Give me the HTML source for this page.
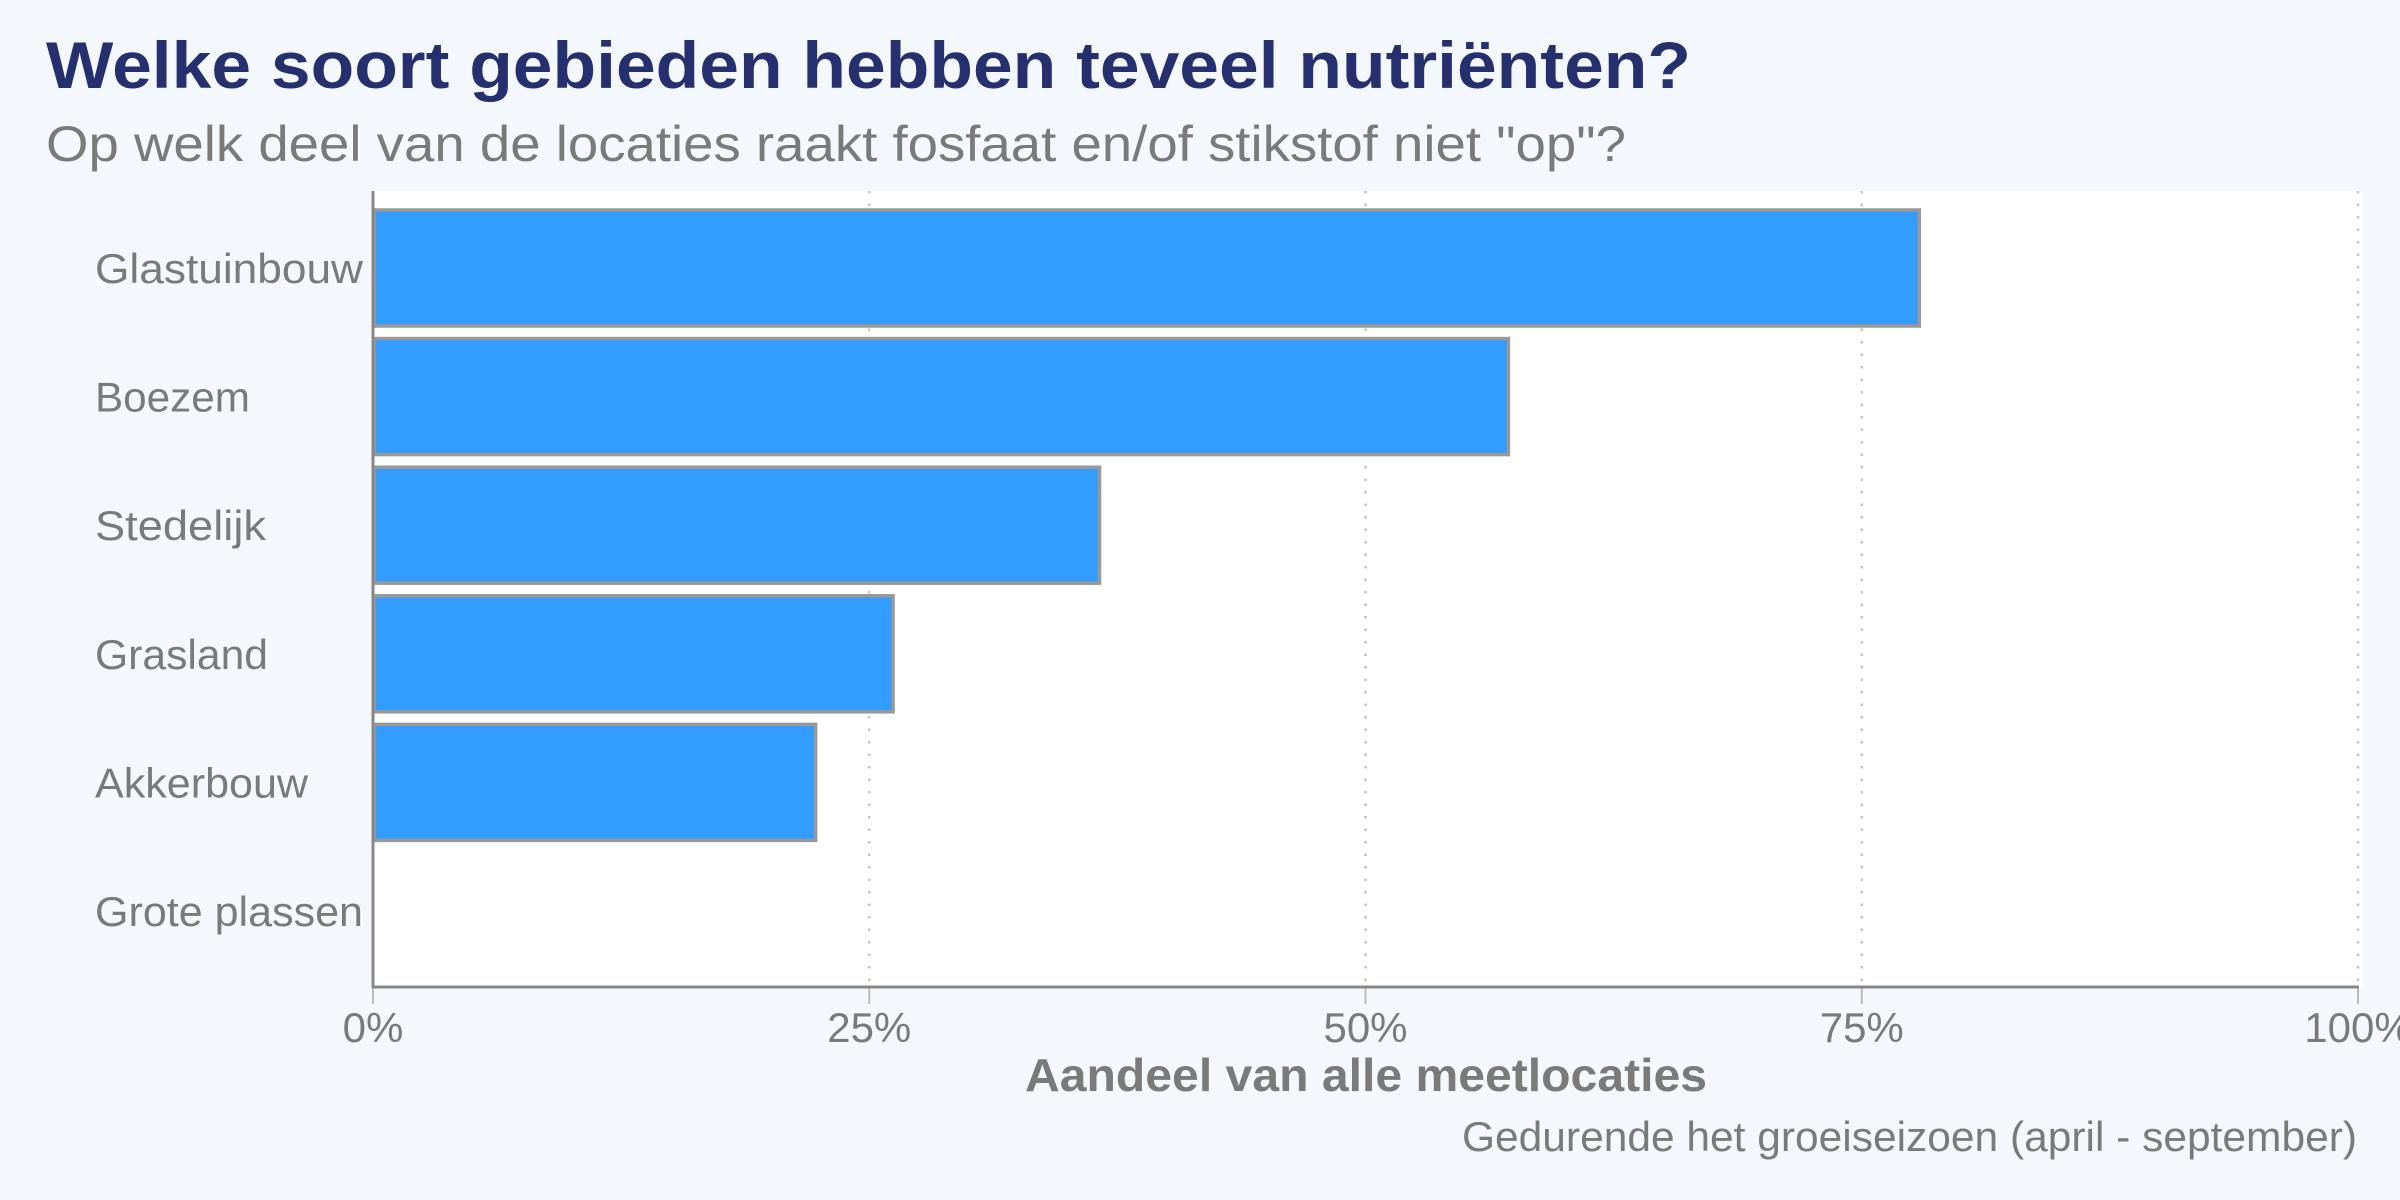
<!DOCTYPE html>
<html><head><meta charset="utf-8"><style>
html,body{margin:0;padding:0;background:#f4f8fc;}
svg{display:block;font-family:"Liberation Sans",sans-serif;}
</style></head><body>
<svg id="chart" width="2400" height="1200" viewBox="0 0 2400 1200">
<rect x="0" y="0" width="2400" height="1200" fill="#f4f8fc"/>
<text x="46" y="88" font-size="66" font-weight="bold" fill="#27306e" textLength="1645" lengthAdjust="spacingAndGlyphs">Welke soort gebieden hebben teveel nutriënten?</text>
<text x="46" y="161" font-size="50" fill="#7a7a7a" textLength="1580" lengthAdjust="spacingAndGlyphs">Op welk deel van de locaties raakt fosfaat en/of stikstof niet "op"?</text>
<rect x="373" y="191" width="1990" height="796" fill="#ffffff"/>
<g id="grid"></g>
<g id="bars"></g>
<g id="ylabels"></g>
<g id="xticks"></g>
<line x1="373" y1="191" x2="373" y2="988" stroke="#888" stroke-width="3"/>
<line x1="372" y1="987" x2="2359" y2="987" stroke="#888" stroke-width="3"/>
<text x="1366" y="1091" font-size="46" font-weight="bold" fill="#7a7a7a" text-anchor="middle" textLength="682" lengthAdjust="spacingAndGlyphs">Aandeel van alle meetlocaties</text>
<text x="2357" y="1151" font-size="42" fill="#7a7a7a" text-anchor="end" textLength="895" lengthAdjust="spacingAndGlyphs">Gedurende het groeiseizoen (april - september)</text>
</svg>
<script>
const categories = ["Glastuinbouw","Boezem","Stedelijk","Grasland","Akkerbouw","Grote plassen"];
const values = [77.9, 57.2, 36.6, 26.2, 22.3, 0];
const tickValues = [0, 25, 50, 75, 100];
const tickLabels = ["0%","25%","50%","75%","100%"];
const labelWidths = [268,155,171,173,213,268];

const NS = "http://www.w3.org/2000/svg";
const x0 = 373, x1 = 2358;
function xScale(v){ return x0 + (v/100)*(x1-x0); }
const bandTop = 204, step = 128.6, barH = 116;
function yScale(i){ return bandTop + i*step; }
function mk(tag, attrs){ const e=document.createElementNS(NS,tag); for(const k in attrs) e.setAttribute(k,attrs[k]); return e; }

const grid = document.getElementById('grid');
const xt = document.getElementById('xticks');
tickValues.forEach((t,i)=>{
  const x = xScale(t);
  if (t>0){
    const g = mk('line',{x1:x,y1:191,x2:x,y2:987,stroke:'#c4c4c4','stroke-width':2.5,'stroke-dasharray':'2.5,10'});
    
    
    grid.appendChild(g);
  }
  const tk = mk('line',{x1:x,y1:987,x2:x,y2:1004,stroke:'#bbb','stroke-width':2});
  
  
  xt.appendChild(tk);
  const lb = mk('text',{x:x,y:1042,'font-size':42,fill:'#7a7a7a','text-anchor':'middle'});
  lb.textContent = tickLabels[i];
  
  
  xt.appendChild(lb);
});

const bars = document.getElementById('bars');
const yl = document.getElementById('ylabels');
categories.forEach((c,i)=>{
  const y = yScale(i);
  const w = xScale(values[i]) - x0;
  if (w > 0){
    const r = mk('rect',{x:x0+1,y:y+6,width:w-1,height:barH,fill:'#339cff',stroke:'#999','stroke-width':3.5});
    
    
    bars.appendChild(r);
  }
  const t = mk('text',{x:95,y:y+6+barH/2+15,'font-size':42,fill:'#7a7a7a',textLength:labelWidths[i],lengthAdjust:'spacingAndGlyphs'});
  t.textContent = c;
  
  
  yl.appendChild(t);
});
</script>
</body></html>
